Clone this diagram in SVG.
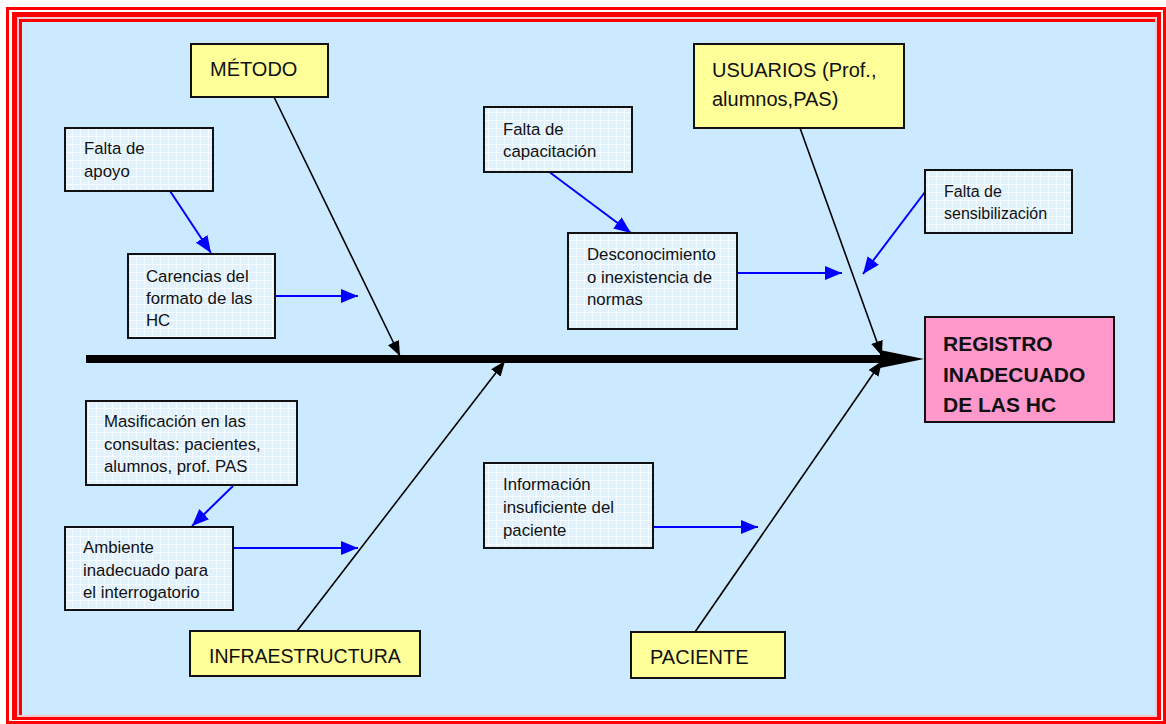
<svg xmlns="http://www.w3.org/2000/svg" width="1166" height="724" viewBox="0 0 1166 724">
<style>
.cat{fill:#ffff99;stroke:#111;stroke-width:2}
.cause{fill:url(#grid);stroke:#111;stroke-width:2}
.effect{fill:#ff99cc;stroke:#111;stroke-width:2}
.t{font-family:"Liberation Sans",Arial,sans-serif;fill:#111}
.ct{font-size:20px}
.st{font-size:16.8px}
.et{font-size:21px;font-weight:bold}
.bone{stroke:#000;stroke-width:1.6;fill:none}
.blue{stroke:#0000ff;stroke-width:2;fill:none}
</style>
<defs>
<pattern id="grid" width="8" height="8" patternUnits="userSpaceOnUse">
<rect width="8" height="8" fill="#e2f2fd"/>
<path d="M0 0.5H8M0.5 0V8" stroke="#f5fbff" stroke-width="1"/>
</pattern>
<marker id="ab" markerUnits="userSpaceOnUse" markerWidth="18" markerHeight="14" refX="17" refY="7" orient="auto">
<path d="M0 0L17 7L0 14Z" fill="#0000ff"/>
</marker>
<marker id="ak" markerUnits="userSpaceOnUse" markerWidth="16" markerHeight="12" refX="15" refY="6" orient="auto">
<path d="M0 0L15 6L0 12Z" fill="#000"/>
</marker>
</defs>
<rect x="0" y="0" width="1166" height="724" fill="#fff"/>
<rect x="7.5" y="8.5" width="1157" height="714" fill="none" stroke="#ff0000" stroke-width="3"/>
<rect x="12" y="12" width="1149" height="708" fill="#ff0000"/>
<rect x="17" y="17" width="1140" height="700" fill="#f2c6d4"/>
<rect x="19" y="19" width="1136" height="696" fill="#ff0000"/>
<rect x="22" y="22" width="1133" height="693" fill="#cceaff"/>

<g id="connectors">
<line x1="86" y1="359" x2="884" y2="359" stroke="#000" stroke-width="8"/>
<path d="M880 350L924 359L880 368Z" fill="#000"/>
<line class="bone" x1="274" y1="97" x2="400" y2="356" marker-end="url(#ak)"/>
<line class="bone" x1="800" y1="128" x2="882" y2="356" marker-end="url(#ak)"/>
<line class="bone" x1="297" y1="631" x2="505" y2="361" marker-end="url(#ak)"/>
<line class="bone" x1="695" y1="632" x2="882" y2="361" marker-end="url(#ak)"/>
<line class="blue" x1="170" y1="191" x2="211" y2="253" marker-end="url(#ab)"/>
<line class="blue" x1="275" y1="296" x2="358" y2="296" marker-end="url(#ab)"/>
<line class="blue" x1="548" y1="171" x2="631" y2="233" marker-end="url(#ab)"/>
<line class="blue" x1="737" y1="273" x2="842" y2="273" marker-end="url(#ab)"/>
<line class="blue" x1="925" y1="192" x2="863" y2="274" marker-end="url(#ab)"/>
<line class="blue" x1="233" y1="486" x2="192" y2="526" marker-end="url(#ab)"/>
<line class="blue" x1="233" y1="548" x2="358" y2="548" marker-end="url(#ab)"/>
<line class="blue" x1="653" y1="527" x2="758" y2="527" marker-end="url(#ab)"/>
</g>

<g id="metodo">
<rect class="cat" x="191" y="44" width="137" height="53"/>
<text class="t ct" x="210" y="76">MÉTODO</text>
</g>
<g id="usuarios">
<rect class="cat" x="694" y="44" width="210" height="84"/>
<text class="t ct" x="712" y="77">USUARIOS (Prof.,</text>
<text class="t ct" x="712" y="106">alumnos,PAS)</text>
</g>
<g id="infraestructura">
<rect class="cat" x="190" y="631" width="230" height="45"/>
<text class="t ct" x="209" y="663" style="font-size:19.5px">INFRAESTRUCTURA</text>
</g>
<g id="paciente">
<rect class="cat" x="631" y="632" width="154" height="46"/>
<text class="t ct" x="650" y="664">PACIENTE</text>
</g>
<g id="efecto">
<rect class="effect" x="925" y="317" width="189" height="105"/>
<text class="t et" x="943" y="351">REGISTRO</text>
<text class="t et" x="943" y="382">INADECUADO</text>
<text class="t et" x="943" y="412">DE LAS HC</text>
</g>

<g id="falta-apoyo">
<rect class="cause" x="65" y="128" width="148" height="63"/>
<text class="t st" x="84" y="154">Falta de</text>
<text class="t st" x="84" y="177">apoyo</text>
</g>
<g id="carencias">
<rect class="cause" x="128" y="254" width="147" height="84"/>
<text class="t st" x="146" y="282">Carencias del</text>
<text class="t st" x="146" y="304">formato de las</text>
<text class="t st" x="146" y="326">HC</text>
</g>
<g id="falta-capacitacion">
<rect class="cause" x="484" y="107" width="148" height="65"/>
<text class="t st" x="503" y="135">Falta de</text>
<text class="t st" x="503" y="157">capacitación</text>
</g>
<g id="desconocimiento">
<rect class="cause" x="568" y="233" width="169" height="96"/>
<text class="t st" x="587" y="260">Desconocimiento</text>
<text class="t st" x="587" y="283">o inexistencia de</text>
<text class="t st" x="587" y="305">normas</text>
</g>
<g id="falta-sensibilizacion">
<rect class="cause" x="925" y="170" width="147" height="63"/>
<text class="t st" x="944" y="197" style="font-size:16px">Falta de</text>
<text class="t st" x="944" y="219" style="font-size:16px">sensibilización</text>
</g>
<g id="masificacion">
<rect class="cause" x="86" y="401" width="211" height="84"/>
<text class="t st" x="104" y="427">Masificación en las</text>
<text class="t st" x="104" y="450">consultas: pacientes,</text>
<text class="t st" x="104" y="472">alumnos, prof. PAS</text>
</g>
<g id="ambiente">
<rect class="cause" x="65" y="527" width="168" height="83"/>
<text class="t st" x="83" y="553">Ambiente</text>
<text class="t st" x="83" y="576">inadecuado para</text>
<text class="t st" x="83" y="598">el interrogatorio</text>
</g>
<g id="informacion">
<rect class="cause" x="484" y="463" width="169" height="85"/>
<text class="t st" x="503" y="490">Información</text>
<text class="t st" x="503" y="513">insuficiente del</text>
<text class="t st" x="503" y="536">paciente</text>
</g>
</svg>
